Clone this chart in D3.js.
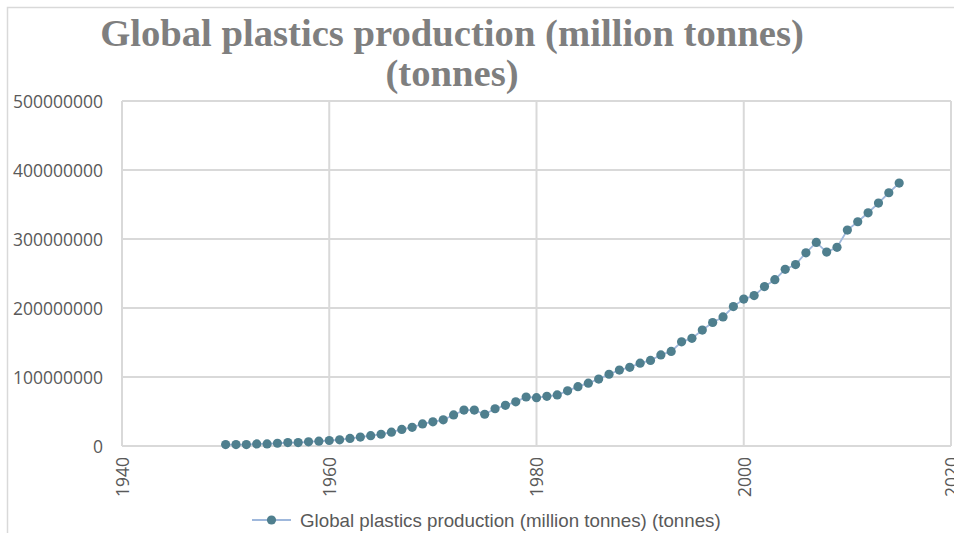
<!DOCTYPE html>
<html>
<head>
<meta charset="utf-8">
<script src="https://cdn.jsdelivr.net/npm/d3@7/dist/d3.min.js"></script>
<style>
  html, body { margin: 0; padding: 0; background: #fff; }
  svg { display: block; }
</style>
</head>
<body>
<svg id="chart" width="954" height="533"></svg>
<script>
// Global plastics production, tonnes per year
const years = [
  1950, 1951, 1952, 1953, 1954, 1955, 1956, 1957, 1958, 1959,
  1960, 1961, 1962, 1963, 1964, 1965, 1966, 1967, 1968, 1969,
  1970, 1971, 1972, 1973, 1974, 1975, 1976, 1977, 1978, 1979,
  1980, 1981, 1982, 1983, 1984, 1985, 1986, 1987, 1988, 1989,
  1990, 1991, 1992, 1993, 1994, 1995, 1996, 1997, 1998, 1999,
  2000, 2001, 2002, 2003, 2004, 2005, 2006, 2007, 2008, 2009,
  2010, 2011, 2012, 2013, 2014, 2015
];
const production = [
  2000000, 2000000, 2000000, 3000000, 3000000, 4000000, 5000000, 5000000, 6000000, 7000000,
  8000000, 9000000, 11000000, 13000000, 15000000, 17000000, 20000000, 24000000, 27000000, 32000000,
  35000000, 38000000, 45000000, 52000000, 52000000, 46000000, 54000000, 59000000, 64000000, 71000000,
  70000000, 72000000, 74000000, 80000000, 86000000, 91000000, 97000000, 104000000, 110000000, 114000000,
  120000000, 124000000, 132000000, 137000000, 151000000, 156000000, 168000000, 179000000, 187000000, 202000000,
  213000000, 218000000, 231000000, 241000000, 256000000, 263000000, 280000000, 295000000, 281000000, 288000000,
  313000000, 325000000, 338000000, 352000000, 367000000, 381000000
];
const xTicks = [1940, 1960, 1980, 2000, 2020];
const yTicks = [0, 100000000, 200000000, 300000000, 400000000, 500000000];
const titleLines = ["Global plastics production (million tonnes)", "(tonnes)"];
const seriesName = "Global plastics production (million tonnes) (tonnes)";

const svg = d3.select("#chart");
const plot = { left: 122, right: 951, top: 101, bottom: 446 };

const gridColor = "#d9d9d9";
const textColor = "#595959";
const lineColor = "#9fb8dc";
const markerColor = "#4f7f8e";

// chart frame
svg.append("rect")
  .attr("x", 7.5).attr("y", 7.5)
  .attr("width", 1100).attr("height", 700)
  .attr("fill", "#fff")
  .attr("stroke", gridColor).attr("stroke-width", 1.5);

const x = d3.scaleLinear().domain([1940, 2020]).range([plot.left, plot.right]);
const y = d3.scaleLinear().domain([0, 500000000]).range([plot.bottom, plot.top]);

// gridlines
const grid = svg.append("g");
grid.selectAll("line.h").data(yTicks).join("line")
  .attr("class", "h")
  .attr("x1", plot.left).attr("x2", plot.right)
  .attr("y1", d => y(d)).attr("y2", d => y(d))
  .attr("stroke", gridColor).attr("stroke-width", 2);
grid.selectAll("line.v").data(xTicks).join("line")
  .attr("class", "v")
  .attr("x1", d => x(d)).attr("x2", d => x(d))
  .attr("y1", plot.top).attr("y2", plot.bottom)
  .attr("stroke", gridColor).attr("stroke-width", 2);

// y axis labels
const yAxis = d3.axisLeft(y).tickValues(yTicks).tickSize(0).tickPadding(0)
  .tickFormat(d3.format("d"));
const yg = svg.append("g").attr("transform", `translate(${plot.left - 19},0)`).call(yAxis);
yg.select(".domain").remove();
yg.selectAll("text")
  .attr("fill", textColor)
  .attr("font-family", "'Open Sans', sans-serif")
  .attr("font-size", 17.5)
  .attr("dy", "0.36em");

// x axis labels (rotated)
const xAxis = d3.axisBottom(x).tickValues(xTicks).tickSize(0).tickPadding(0)
  .tickFormat(d3.format("d"));
const xg = svg.append("g").attr("transform", `translate(0,${plot.bottom})`).call(xAxis);
xg.select(".domain").remove();
xg.selectAll("text")
  .attr("fill", textColor)
  .attr("font-family", "'Open Sans', sans-serif")
  .attr("font-size", 17.5)
  .attr("text-anchor", "end")
  .attr("transform", "rotate(-90)")
  .attr("x", -11)
  .attr("y", 0)
  .attr("dy", "0.36em");

// series
const data = years.map((yr, i) => ({ yr, v: production[i] }));
const line = d3.line().x(d => x(d.yr)).y(d => y(d.v));
svg.append("path")
  .datum(data)
  .attr("d", line)
  .attr("fill", "none")
  .attr("stroke", lineColor)
  .attr("stroke-width", 1.8);
svg.append("g").selectAll("circle").data(data).join("circle")
  .attr("cx", d => x(d.yr)).attr("cy", d => y(d.v))
  .attr("r", 4.6)
  .attr("fill", markerColor);

// title: serif bold, first line fitted to its slot width
const titleSize = 37;
const title = svg.append("g");
const titleTexts = titleLines.map((t, i) =>
  title.append("text")
    .attr("x", 0).attr("y", 0)
    .attr("text-anchor", "middle")
    .attr("fill", "#7f7f7f")
    .attr("font-family", "'Liberation Serif', 'DejaVu Serif', serif")
    .attr("font-weight", "bold")
    .attr("font-size", titleSize)
    .text(t));
const tw = titleTexts[0].node().getComputedTextLength();
const sx = tw > 0 ? 704 / tw : 1;
titleTexts.forEach((t, i) =>
  t.attr("transform", `translate(452,${46 + i * 40}) scale(${sx},1)`));

// legend
const lg = svg.append("g").attr("transform", "translate(0,520)");
lg.append("line")
  .attr("x1", 252).attr("x2", 291).attr("y1", 0).attr("y2", 0)
  .attr("stroke", lineColor).attr("stroke-width", 1.8);
lg.append("circle").attr("cx", 271.5).attr("cy", 0).attr("r", 4.6).attr("fill", markerColor);
const lt = lg.append("text")
  .attr("x", 300).attr("y", 0).attr("dy", "0.35em")
  .attr("fill", textColor)
  .attr("font-family", "'Liberation Sans Narrow', 'Arial Narrow', sans-serif")
  .attr("font-size", 18)
  .text(seriesName);
// size legend text to its slot width
const lw = lt.node().getComputedTextLength();
if (lw > 0) lt.attr("font-size", 18 * 421 / lw);
</script>
</body>
</html>
